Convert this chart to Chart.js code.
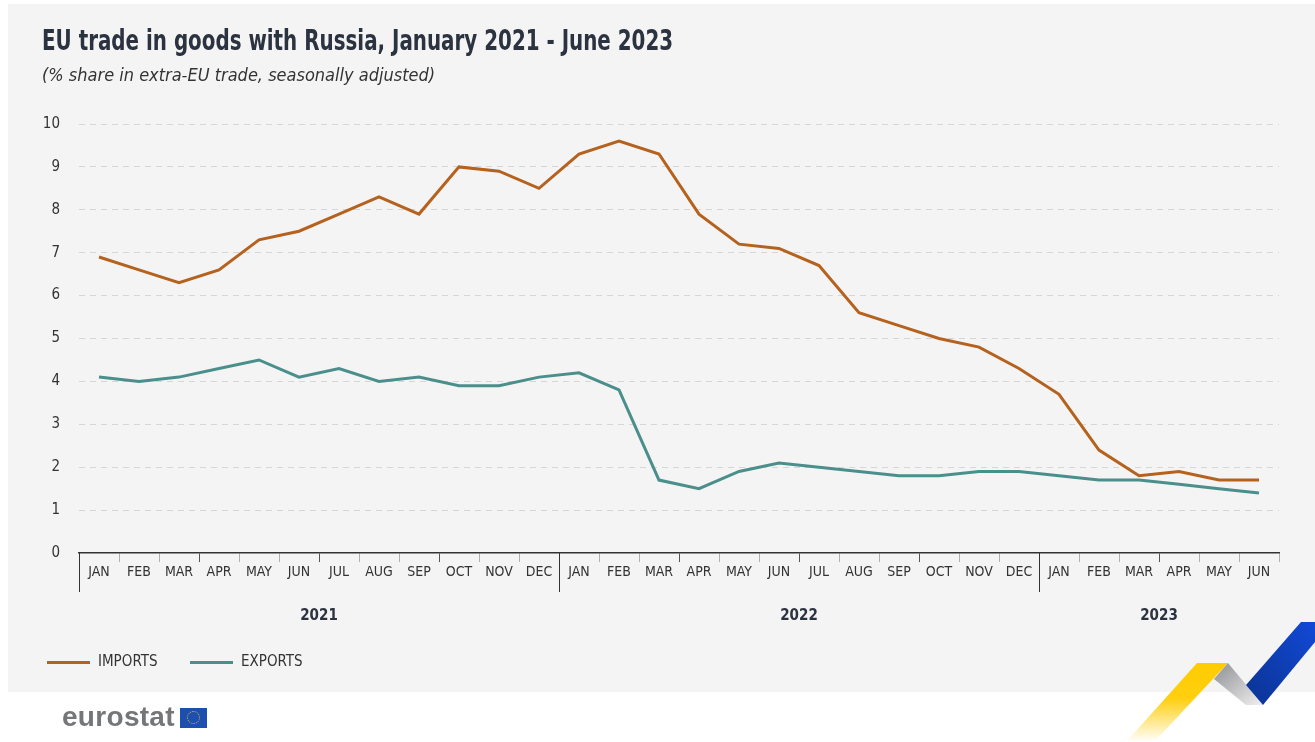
<!DOCTYPE html>
<html lang="en">
<head>
    <meta charset="UTF-8">
    <title>EU trade in goods with Russia</title>
    <script src="https://cdn.jsdelivr.net/npm/chart.js"></script>
    <style>
        html, body {
            margin: 0;
            padding: 0;
            background: #ffffff;
            font-family: "DejaVu Sans Condensed", sans-serif;
        }
        #page {
            position: relative;
            width: 1315px;
            height: 742px;
            overflow: hidden;
        }
        #panel {
            position: absolute;
            left: 8px;
            top: 4px;
            width: 1307px;
            height: 688px;
            background: #f4f4f4;
        }
        #chart {
            position: absolute;
            left: 0;
            top: 0;
        }
        .title {
            position: absolute;
            left: 42px;
            top: 23px;
            font-size: 29px;
            font-weight: bold;
            color: #2b3240;
            white-space: nowrap;
            transform: scaleX(0.762);
            transform-origin: left top;
        }
        .subtitle {
            position: absolute;
            left: 42px;
            top: 64px;
            font-size: 18px;
            font-style: italic;
            color: #333;
            white-space: nowrap;
        }
        #legend {
            position: absolute;
            left: 47px;
            top: 652px;
            font-size: 15px;
            color: #333;
        }
        .item {
            position: absolute;
            top: 0;
            white-space: nowrap;
        }
        .item span.swatch {
            position: absolute;
            top: 9px;
            width: 43px;
            height: 3px;
        }
        .item span.label {
            position: absolute;
            left: 51px;
            top: 0;
        }
        #logo {
            position: absolute;
            left: 62px;
            top: 701px;
            font-family: "Liberation Sans", Arial, sans-serif;
            font-weight: bold;
            font-size: 28px;
            color: #75767a;
            letter-spacing: 0.3px;
        }
        #flag {
            position: absolute;
            left: 180px;
            top: 708px;
            width: 27px;
            height: 20px;
            background: #1d4fb0;
        }
        #flag div {
            position: absolute;
            left: 7px;
            top: 3px;
            width: 11px;
            height: 11px;
            border: 1.5px dotted #f2c200;
            border-radius: 50%;
        }
        #ribbon {
            position: absolute;
            left: 0;
            top: 0;
        }
    </style>
</head>
<body>
<div id="page">
    <div id="panel"></div>
    <canvas id="chart" width="1315" height="742"></canvas>
    <div class="title">EU trade in goods with Russia, January 2021 - June 2023</div>
    <div class="subtitle">(% share in extra-EU trade, seasonally adjusted)</div>
    <div id="legend"></div>
    <div id="logo">eurostat</div>
    <div id="flag"><div></div></div>
    <svg id="ribbon" width="1315" height="742">
        <defs>
            <linearGradient id="gy" x1="0" y1="0" x2="0" y2="1">
                <stop offset="0" stop-color="#ffcc00"/>
                <stop offset="0.45" stop-color="#ffcf10"/>
                <stop offset="1" stop-color="#ffffff"/>
            </linearGradient>
            <linearGradient id="gg" x1="0" y1="0" x2="1" y2="1">
                <stop offset="0" stop-color="#8e8f94"/>
                <stop offset="1" stop-color="#f0f0f0"/>
            </linearGradient>
            <linearGradient id="gb" x1="1" y1="0" x2="0" y2="1">
                <stop offset="0" stop-color="#1249d6"/>
                <stop offset="1" stop-color="#0b3392"/>
            </linearGradient>
        </defs>
        <polygon points="1197,663 1228,663 1154,742 1126,742" fill="url(#gy)"/>
        <polygon points="1214,679 1228,663 1263,705 1246,705" fill="url(#gg)"/>
        <polygon points="1246,685 1301,622 1315,622 1315,642 1263,705" fill="url(#gb)"/>
    </svg>
</div>

<script>
    // data
    const months = ['JAN', 'FEB', 'MAR', 'APR', 'MAY', 'JUN', 'JUL', 'AUG', 'SEP', 'OCT', 'NOV', 'DEC',
                    'JAN', 'FEB', 'MAR', 'APR', 'MAY', 'JUN', 'JUL', 'AUG', 'SEP', 'OCT', 'NOV', 'DEC',
                    'JAN', 'FEB', 'MAR', 'APR', 'MAY', 'JUN'];
    const years = ['2021', '2022', '2023'];
    const monthsPerYear = [12, 12, 6];
    const imports = [6.9, 6.6, 6.3, 6.6, 7.3, 7.5, 7.9, 8.3, 7.9, 9.0, 8.9, 8.5,
                     9.3, 9.6, 9.3, 7.9, 7.2, 7.1, 6.7, 5.6, 5.3, 5.0, 4.8, 4.3,
                     3.7, 2.4, 1.8, 1.9, 1.7, 1.7];
    const exports = [4.1, 4.0, 4.1, 4.3, 4.5, 4.1, 4.3, 4.0, 4.1, 3.9, 3.9, 4.1,
                     4.2, 3.8, 1.7, 1.5, 1.9, 2.1, 2.0, 1.9, 1.8, 1.8, 1.9, 1.9,
                     1.8, 1.7, 1.7, 1.6, 1.5, 1.4];
    const yTicks = [0, 1, 2, 3, 4, 5, 6, 7, 8, 9, 10];

    const FONT = '"DejaVu Sans Condensed", sans-serif';

    // year separators and labels under the month axis
    const yearGroups = {
        id: 'yearGroups',
        afterDraw(chart) {
            const ctx = chart.ctx;
            const x = chart.scales.x;
            const bottom = chart.chartArea.bottom;
            const half = (x.getPixelForValue(1) - x.getPixelForValue(0)) / 2;
            let start = 0;
            ctx.save();
            ctx.strokeStyle = '#333';
            ctx.lineWidth = 1;
            ctx.fillStyle = '#2b3240';
            ctx.font = 'bold 15px ' + FONT;
            ctx.textAlign = 'center';
            ctx.textBaseline = 'middle';
            years.forEach((y, i) => {
                const left = x.getPixelForValue(start) - half;
                const right = x.getPixelForValue(start + monthsPerYear[i] - 1) + half;
                ctx.beginPath();
                ctx.moveTo(Math.round(left) + 0.5, bottom);
                ctx.lineTo(Math.round(left) + 0.5, bottom + 39);
                ctx.stroke();
                ctx.fillText(y, (left + right) / 2, bottom + 63);
                start += monthsPerYear[i];
            });
            ctx.restore();
        }
    };

    const chart = new Chart(document.getElementById('chart'), {
        type: 'line',
        data: {
            labels: months,
            datasets: [{
                label: 'IMPORTS',
                data: imports,
                borderColor: '#b5621f',
                borderWidth: 3,
                pointRadius: 0,
                tension: 0
            }, {
                label: 'EXPORTS',
                data: exports,
                borderColor: '#4a8f8c',
                borderWidth: 3,
                pointRadius: 0,
                tension: 0
            }]
        },
        options: {
            responsive: false,
            animation: false,
            layout: {
                padding: { left: 0, right: 36, top: 124, bottom: 150 }
            },
            scales: {
                x: {
                    offset: true,
                    grid: {
                        offset: true,
                        drawOnChartArea: false,
                        drawTicks: true,
                        tickLength: 9,
                        color: ctx => (ctx.index % 3 === 0 ? '#555' : '#b0b0b0')
                    },
                    border: { display: true, color: '#333', width: 1.5 },
                    ticks: {
                        autoSkip: false,
                        maxRotation: 0,
                        padding: 2,
                        color: '#333',
                        font: { family: FONT, size: 14 }
                    },
                    afterFit(scale) { scale.height = 39; }
                },
                y: {
                    min: 0,
                    max: 10,
                    afterBuildTicks(scale) { scale.ticks = yTicks.map(v => ({ value: v })); },
                    grid: {
                        drawTicks: false,
                        color: ctx => (ctx.tick.value === 0 ? 'rgba(0,0,0,0)' : '#d6d6d6'),
                        lineWidth: 1
                    },
                    border: { display: false, dash: [6, 5] },
                    ticks: {
                        padding: 19,
                        color: '#333',
                        font: { family: FONT, size: 15 }
                    },
                    afterFit(scale) { scale.width = 79; }
                }
            },
            plugins: {
                legend: { display: false },
                tooltip: { enabled: false }
            }
        },
        plugins: [yearGroups]
    });

    // legend from the datasets
    const legend = document.getElementById('legend');
    chart.data.datasets.forEach((ds, i) => {
        const item = document.createElement('div');
        item.className = 'item';
        item.style.left = (i * 143) + 'px';
        item.innerHTML = '<span class="swatch" style="background:' + ds.borderColor + '"></span>' +
                         '<span class="label">' + ds.label + '</span>';
        legend.appendChild(item);
    });
</script>
</body>
</html>
